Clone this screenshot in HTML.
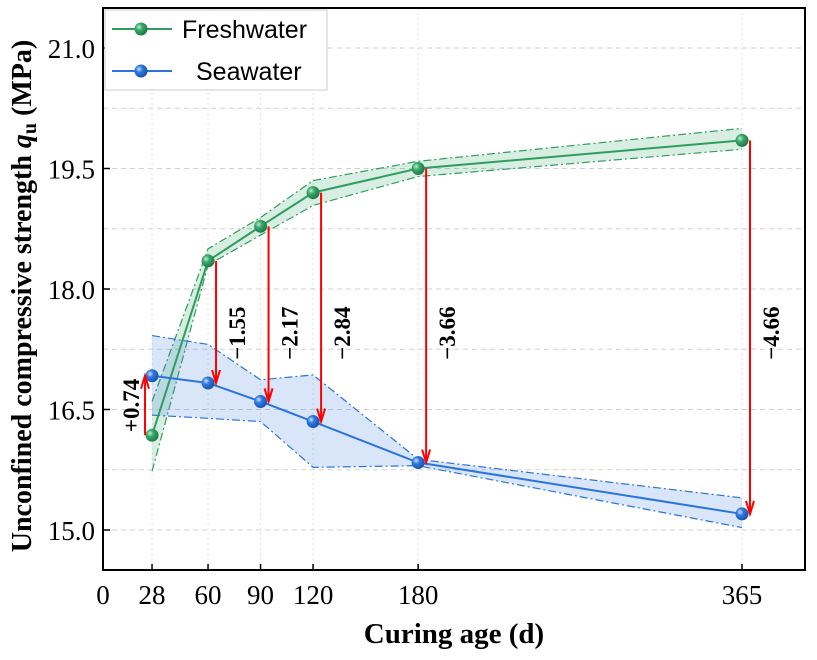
<!DOCTYPE html>
<html><head><meta charset="utf-8"><style>
body{margin:0;background:#fff}
svg text{font-family:"Liberation Serif",serif}
</style></head><body>
<svg id="chart" width="817" height="655" xmlns="http://www.w3.org/2000/svg">
<defs>
<radialGradient id="gG" cx="35%" cy="35%" r="65%"><stop offset="0" stop-color="#bff0d0"/><stop offset="0.4" stop-color="#3aa86a"/><stop offset="1" stop-color="#1f7a48"/></radialGradient>
<radialGradient id="gB" cx="35%" cy="35%" r="65%"><stop offset="0" stop-color="#cfe4ff"/><stop offset="0.4" stop-color="#2f7ae0"/><stop offset="1" stop-color="#1a55b0"/></radialGradient>
</defs>
<g id="grid"></g>
<g id="bands"></g>
<g id="lines"></g>
<g id="arrows"></g>
<rect x="103" y="8" width="702" height="562" fill="none" stroke="#000" stroke-width="2"/>
<g id="axes"></g>
<text x="454" y="643" text-anchor="middle" style="font-size:29px" font-weight="bold">Curing age (d)</text>
<text transform="translate(31,296) rotate(-90)" text-anchor="middle" style="font-size:28px" font-weight="bold">Unconfined compressive strength <tspan font-style="italic">q</tspan><tspan style="font-size:20px" dy="5">u</tspan><tspan dy="-5"> (MPa)</tspan></text>
<g>
<rect x="105" y="10" width="222" height="80" fill="#fff" stroke="#ccc"/>
<g>
<line x1="112" y1="29" x2="172" y2="29" stroke="#2e9e5e" stroke-width="2"/>
<circle cx="141" cy="29" r="6.5" fill="url(#gG)"/>
<text x="182" y="38" style="font-size:25px;font-family:'Liberation Sans',sans-serif">Freshwater</text></g>
<g>
<line x1="112" y1="71" x2="172" y2="71" stroke="#2a74dc" stroke-width="2"/>
<circle cx="141" cy="71" r="6.5" fill="url(#gB)"/>
<text x="196" y="80" style="font-size:25px;font-family:'Liberation Sans',sans-serif">Seawater</text></g>
</g>
</svg>
<script>
const ages=[28,60,90,120,180,365];
const fresh=[16.18,18.35,18.78,19.2,19.5,19.85];
const freshUpper=[16.6,18.5,18.89,19.35,19.59,20.0];
const freshLower=[15.73,18.3,18.67,19.04,19.4,19.74];
const sea=[16.92,16.83,16.6,16.35,15.84,15.2];
const seaUpper=[17.42,17.31,16.87,16.93,15.88,15.4];
const seaLower=[16.43,16.39,16.35,15.78,15.8,15.03];
const diffLabels=["+0.74","\u22121.55","\u22122.17","\u22122.84","\u22123.66","\u22124.66"];
const xTicks=[0,28,60,90,120,180,365];
const yTicks=[15.0,16.5,18.0,19.5,21.0];
const yGrid=[15,15.75,16.5,17.25,18,18.75,19.5,20.25,21];
const NS="http://www.w3.org/2000/svg";
const X=v=>103+v*(639/365);
const Y=v=>530-(v-15)*(482/6);
function mk(p,t,a){const e=document.createElementNS(NS,t);for(const k in a)e.setAttribute(k,a[k]);p.appendChild(e);return e;}
const grid=document.getElementById('grid');
yGrid.forEach(v=>{const l=mk(grid,'line',{x1:103,x2:805,y1:Y(v),y2:Y(v),stroke:'#d0d0d0','stroke-dasharray':'5,4','stroke-width':1});

});
ages.forEach(v=>{const l=mk(grid,'line',{x1:X(v),x2:X(v),y1:8,y2:570,stroke:'#e0e0e0','stroke-dasharray':'2,3','stroke-width':1});

});
const bands=document.getElementById('bands');
function band(up,lo,fill,stroke,name){
 let d='M'+ages.map((a,i)=>X(a)+','+Y(up[i])).join('L');
 d+='L'+ages.map((a,i)=>X(a)+','+Y(lo[i])).reverse().join('L')+'Z';
 const p=mk(bands,'path',{d:d,fill:fill,stroke:'none'});
 
 
 [up,lo].forEach(arr=>{const q=mk(bands,'polyline',{points:ages.map((a,i)=>X(a)+','+Y(arr[i])).join(' '),fill:'none',stroke:stroke,'stroke-width':1.2,'stroke-dasharray':'8,3,2,3'});
 
 });
}
band(freshUpper,freshLower,'rgba(46,158,94,0.18)','#2e9e5e','freshwater');
band(seaUpper,seaLower,'rgba(42,116,220,0.18)','#2a74dc','seawater');
const lines=document.getElementById('lines');
function series(vals,color,grad,name){
 const pl=mk(lines,'polyline',{points:ages.map((a,i)=>X(a)+','+Y(vals[i])).join(' '),fill:'none',stroke:color,'stroke-width':2});
 
 
 ages.forEach((a,i)=>{const c=mk(lines,'circle',{cx:X(a),cy:Y(vals[i]),r:6.5,fill:'url(#'+grad+')'});
 
 });
}
series(fresh,'#2e9e5e','gG','freshwater');
series(sea,'#2a74dc','gB','seawater');
const ar=document.getElementById('arrows');
ages.forEach((a,i)=>{
 const up=sea[i]>fresh[i];
 const x=X(a)+(up?-7:8);
 const y1=Y(fresh[i]), y2=Y(sea[i]);
 const g=mk(ar,'g',{});
 
 
 mk(g,'line',{x1:x,x2:x,y1:y1,y2:y2,stroke:'#f00','stroke-width':2});
 const s=up?1:-1;
 mk(g,'polyline',{points:(x-4)+','+(y2+s*13)+' '+x+','+y2+' '+(x+4)+','+(y2+s*13),fill:'none',stroke:'#f00','stroke-width':2});
 const lx=up?x-6:x+29, ly=up?(y1+y2)/2:Y(17.45);
 const t=mk(g,'text',{transform:'translate('+lx+','+ly+') rotate(-90)','text-anchor':'middle',style:'font-size:23px','font-weight':'bold'});
 t.textContent=diffLabels[i];
 
 
});
const ax=document.getElementById('axes');
xTicks.forEach(v=>{mk(ax,'line',{x1:X(v),x2:X(v),y1:570,y2:564,stroke:'#000','stroke-width':1.5});
 const t=mk(ax,'text',{x:X(v),y:604,'text-anchor':'middle',style:'font-size:27px'});t.textContent=v;
 
 });
yTicks.forEach(v=>{mk(ax,'line',{x1:103,x2:110,y1:Y(v),y2:Y(v),stroke:'#000','stroke-width':1.5});
 const t=mk(ax,'text',{x:95,y:Y(v)+10,'text-anchor':'end',style:'font-size:27px'});t.textContent=v.toFixed(1);
 
 });
</script>
</body></html>
